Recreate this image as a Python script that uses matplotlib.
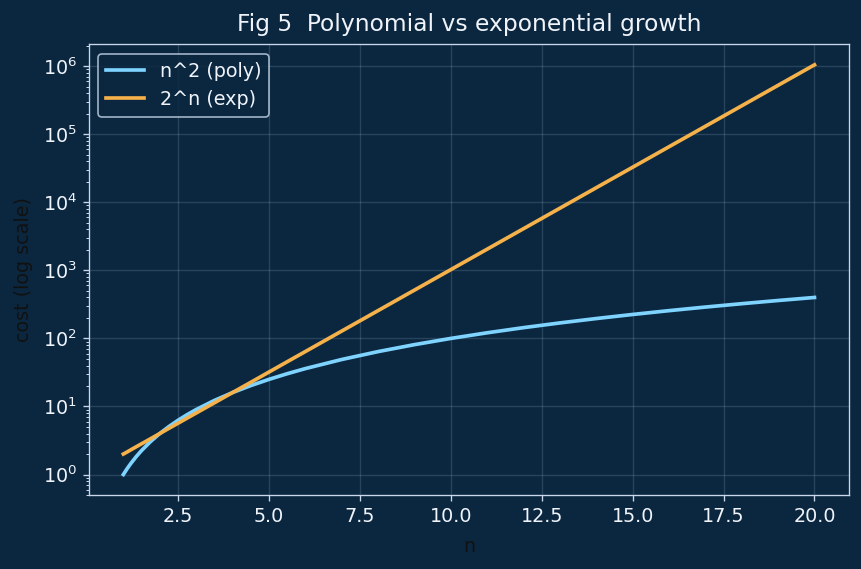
import matplotlib.pyplot as plt

# values
n_vals = [1, 1.1, 1.2, 1.35, 1.5, 1.75, 2, 2.25, 2.5, 2.75, 3, 3.5, 4, 4.5,
          5, 5.5, 6, 7, 8, 9, 10, 11, 12, 13, 14, 15, 16, 17, 18, 19, 20]
poly_cost = [1, 1.21, 1.44, 1.8225, 2.25, 3.0625, 4, 5.0625, 6.25, 7.5625,
             9, 12.25, 16, 20.25, 25, 30.25, 36, 49, 64, 81, 100, 121, 144,
             169, 196, 225, 256, 289, 324, 361, 400]
exp_cost = [2, 2.14, 2.3, 2.55, 2.83, 3.36, 4, 4.76, 5.66, 6.73, 8, 11.3,
            16, 22.6, 32, 45.3, 64, 128, 256, 512, 1024, 2048, 4096, 8192,
            16384, 32768, 65536, 131072, 262144, 524288, 1048576]

bg = '#0b2740'
fg = '#f0f4fa'
spine = '#c8d8ea'

fig, ax = plt.subplots(figsize=(7.183, 4.742), dpi=120)
fig.patch.set_facecolor(bg)
ax.set_facecolor(bg)

ax.plot(n_vals, poly_cost, color='#7fd3ff', lw=2.2, label='n^2 (poly)')
ax.plot(n_vals, exp_cost, color='#f5b14a', lw=2.2, label='2^n (exp)')
ax.set_yscale('log')

ax.grid(True, color='#9fb8d0', alpha=0.2, lw=0.8)
for s in ax.spines.values():
    s.set_color(spine)
ax.tick_params(colors=spine, labelcolor=fg, labelsize=11.5)
ax.tick_params(which='minor', colors=spine)

ax.set_xlabel('n', color='#111111', fontsize=11.5, labelpad=7)
ax.set_ylabel('cost (log scale)', color='#111111', fontsize=11.5, labelpad=6)
ax.set_title('Fig 5  Polynomial vs exponential growth', color=fg, fontsize=14,
             pad=8)

leg = ax.legend(loc='upper left', facecolor=bg, edgecolor=spine, fontsize=11.5)
for t in leg.get_texts():
    t.set_color(fg)

fig.subplots_adjust(left=0.103, right=0.985, top=0.922, bottom=0.13)
fig.savefig('out.png', dpi=120, facecolor=bg)
